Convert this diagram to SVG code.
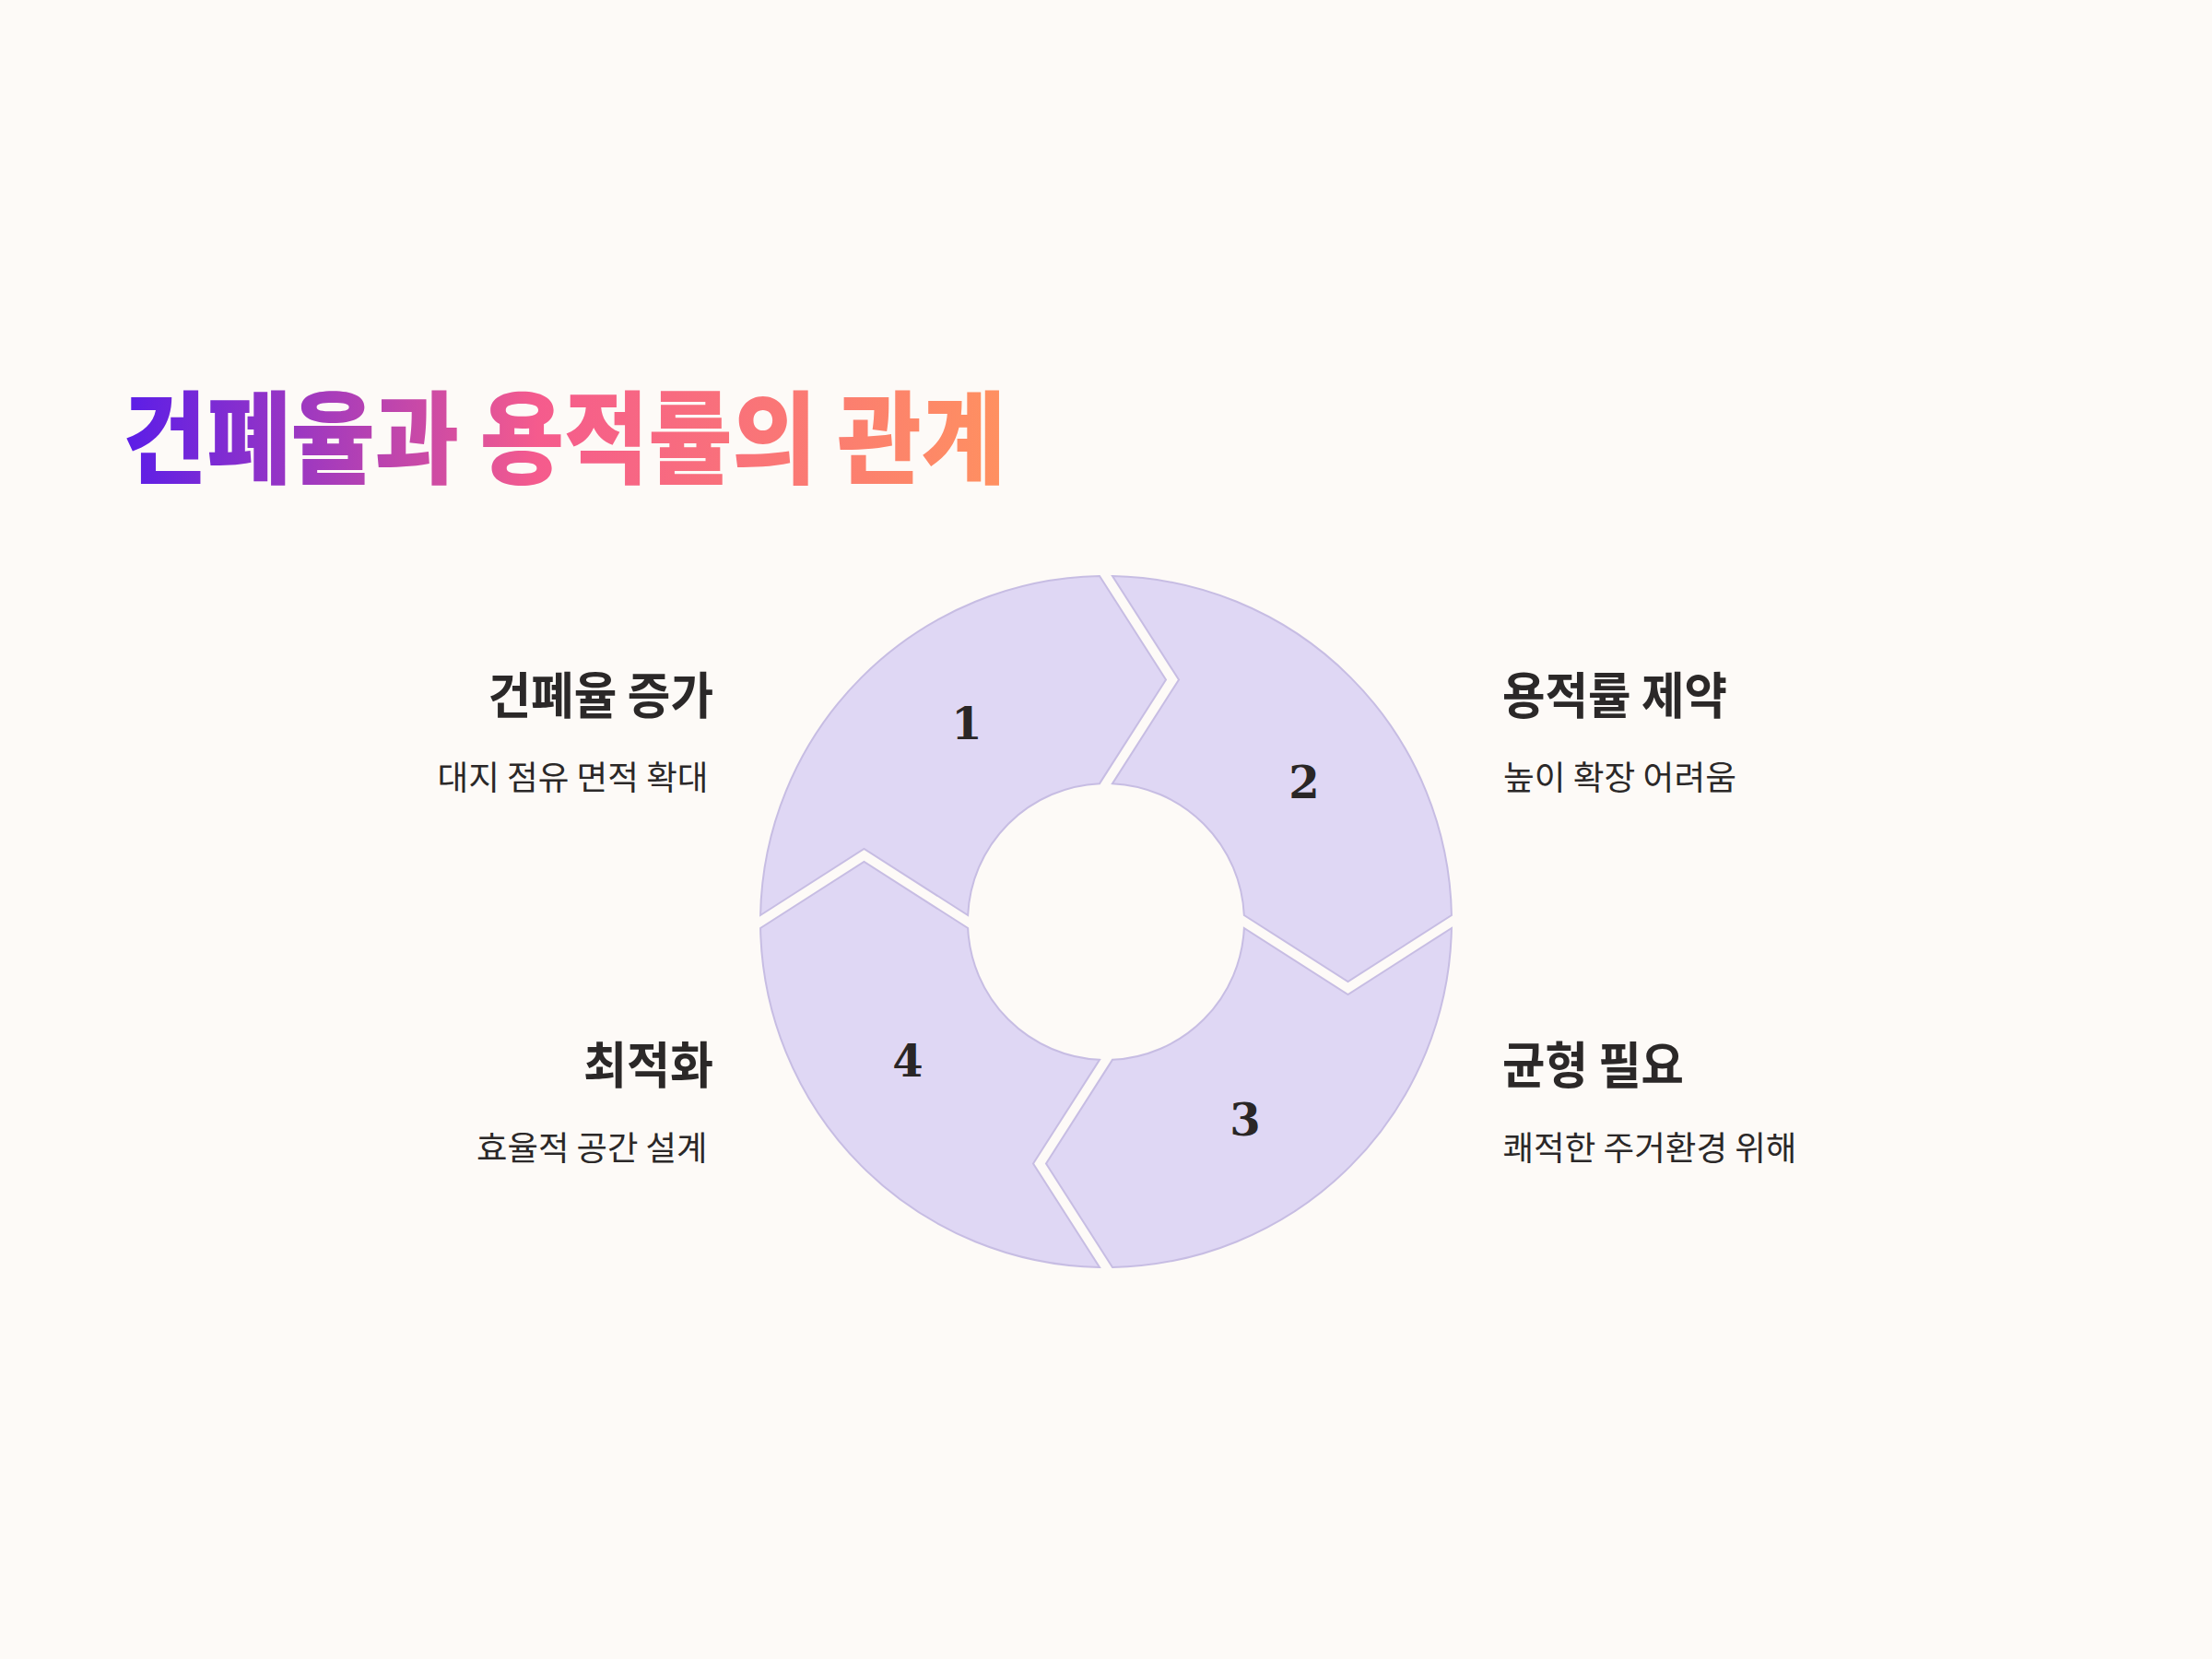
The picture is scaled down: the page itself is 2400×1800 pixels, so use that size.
<svg xmlns="http://www.w3.org/2000/svg" width="2400" height="1800" viewBox="0 0 2400 1800">
  <defs>
    <linearGradient id="titleGrad" gradientUnits="userSpaceOnUse" x1="133" y1="0" x2="1091" y2="0">
      <stop offset="0" stop-color="#5A1DE8"/>
      <stop offset="0.47" stop-color="#F55B8D"/>
      <stop offset="1" stop-color="#FF9160"/>
    </linearGradient>
    <path id="seg" d="M -374.93,-7 A 375 375 0 0 1 -7,-374.93 L 65,-262.5 L -7,-149.84 A 150 150 0 0 0 -149.84,-7 L -262.5,-79 Z"/>
    <style>
      .seg { fill: #DFD7F4; stroke: #C7BDE3; stroke-width: 2; }
      .num { font-family: "DejaVu Serif", "Liberation Serif", serif; font-weight: 700; font-size: 48px; fill: #2A2626; text-anchor: middle; }
      .head { font-family: "Noto Sans CJK KR", "Noto Sans", sans-serif; font-weight: 700; font-size: 54px; fill: #2B2828; }
      .desc { font-family: "Noto Sans CJK KR", "Noto Sans", sans-serif; font-weight: 400; font-size: 36px; fill: #2B2828; }
      .title { font-family: "Noto Sans CJK KR", "Noto Sans", sans-serif; font-weight: 900; font-size: 109px; fill: url(#titleGrad); }
    </style>
  </defs>
  <rect x="0" y="0" width="2400" height="1800" fill="#FDFAF7"/>

  <g id="title">
    <text class="title" x="133" y="516" textLength="958" lengthAdjust="spacingAndGlyphs">건폐율과 용적률의 관계</text>
  </g>

  <g id="cycle">
    <g id="node-1">
      <use href="#seg" class="seg" transform="translate(1200,1000)"/>
      <text class="num" x="1049" y="802">1</text>
    </g>
    <g id="node-2">
      <use href="#seg" class="seg" transform="translate(1200,1000) rotate(90)"/>
      <text class="num" x="1415" y="866">2</text>
    </g>
    <g id="node-3">
      <use href="#seg" class="seg" transform="translate(1200,1000) rotate(180)"/>
      <text class="num" x="1351" y="1232">3</text>
    </g>
    <g id="node-4">
      <use href="#seg" class="seg" transform="translate(1200,1000) rotate(270)"/>
      <text class="num" x="985" y="1168">4</text>
    </g>
  </g>

  <g id="connectors"></g>

  <g id="label-1">
    <text class="head" x="529.5" y="774.5" textLength="244.5" lengthAdjust="spacingAndGlyphs">건폐율 증가</text>
    <text class="desc" x="474.5" y="857" textLength="294" lengthAdjust="spacingAndGlyphs">대지 점유 면적 확대</text>
  </g>
  <g id="label-2">
    <text class="head" x="1630" y="774.5" textLength="244" lengthAdjust="spacingAndGlyphs">용적률 제약</text>
    <text class="desc" x="1631" y="857" textLength="253" lengthAdjust="spacingAndGlyphs">높이 확장 어려움</text>
  </g>
  <g id="label-3">
    <text class="head" x="1630" y="1176" textLength="197" lengthAdjust="spacingAndGlyphs">균형 필요</text>
    <text class="desc" x="1630.5" y="1259" textLength="319" lengthAdjust="spacingAndGlyphs">쾌적한 주거환경 위해</text>
  </g>
  <g id="label-4">
    <text class="head" x="633" y="1176" textLength="141" lengthAdjust="spacingAndGlyphs">최적화</text>
    <text class="desc" x="517" y="1259" textLength="250.5" lengthAdjust="spacingAndGlyphs">효율적 공간 설계</text>
  </g>
</svg>
